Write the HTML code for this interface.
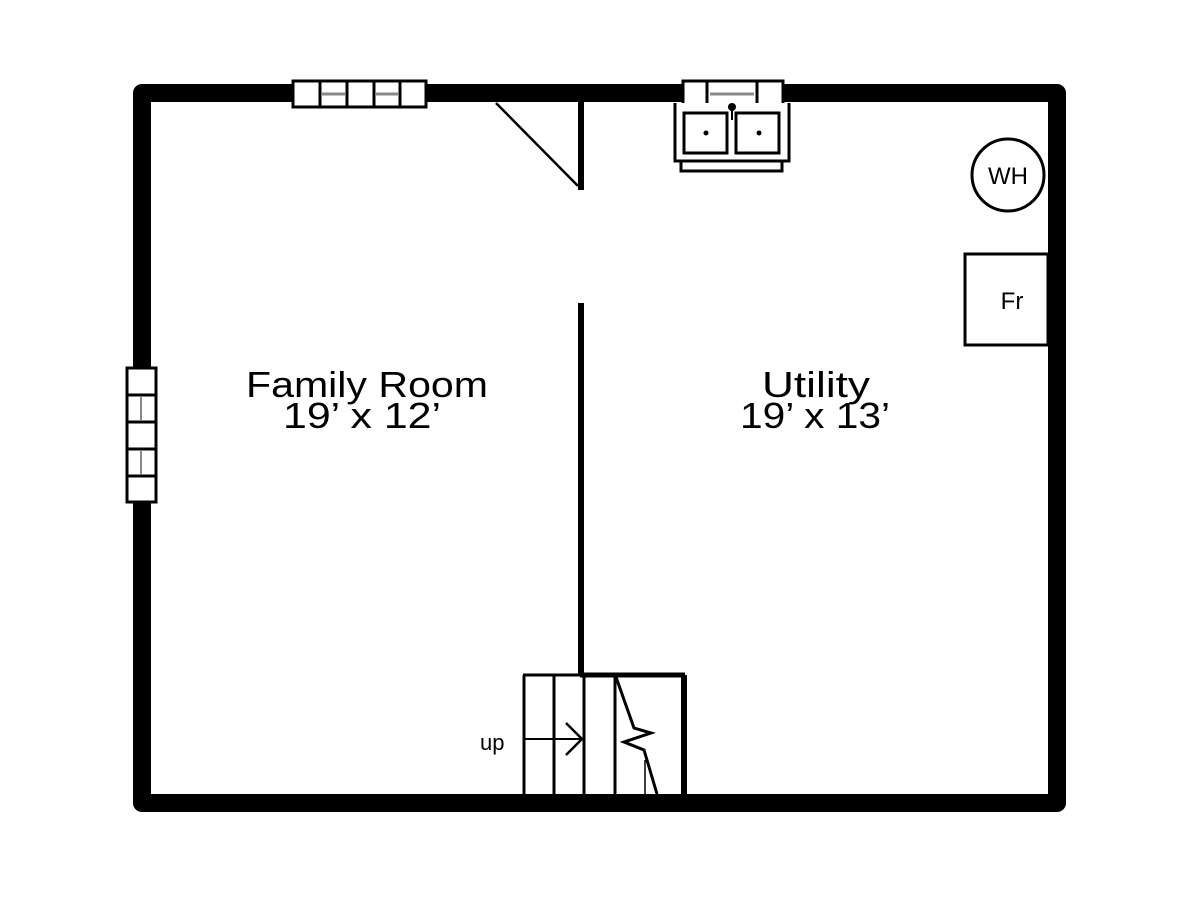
<!DOCTYPE html>
<html><head><style>html,body{margin:0;padding:0;background:#fff}</style></head>
<body>
<svg width="1200" height="900" viewBox="0 0 1200 900" xmlns="http://www.w3.org/2000/svg">
<rect width="1200" height="900" fill="#fff"/>
<rect x="142" y="93" width="915" height="710" fill="none" stroke="#000" stroke-width="18" stroke-linejoin="round"/>
<rect x="293" y="81" width="133" height="26" fill="#fff" stroke="#000" stroke-width="3"/>
<g stroke="#000" stroke-width="3"><line x1="320" y1="81" x2="320" y2="107"/><line x1="347" y1="81" x2="347" y2="107"/><line x1="374" y1="81" x2="374" y2="107"/><line x1="400" y1="81" x2="400" y2="107"/></g>
<g stroke="#888" stroke-width="3"><line x1="322" y1="94" x2="345" y2="94"/><line x1="375" y1="94" x2="398" y2="94"/></g>
<rect x="127" y="368" width="29" height="134" fill="#fff" stroke="#000" stroke-width="3"/>
<g stroke="#000" stroke-width="3"><line x1="127" y1="395" x2="156" y2="395"/><line x1="127" y1="422" x2="156" y2="422"/><line x1="127" y1="449" x2="156" y2="449"/><line x1="127" y1="476" x2="156" y2="476"/></g>
<g stroke="#888" stroke-width="2"><line x1="141" y1="397" x2="141" y2="420"/><line x1="141" y1="451" x2="141" y2="474"/></g>
<rect x="683" y="81" width="100" height="26" fill="#fff" stroke="#000" stroke-width="3"/>
<g stroke="#000" stroke-width="3"><line x1="707" y1="81" x2="707" y2="107"/><line x1="757" y1="81" x2="757" y2="107"/></g>
<line x1="710" y1="94" x2="754" y2="94" stroke="#888" stroke-width="3"/>
<path d="M675 103 V161 H789 V103" fill="#fff" stroke="#000" stroke-width="3"/>
<rect x="681" y="161" width="101" height="10" fill="#fff" stroke="#000" stroke-width="3"/>
<rect x="684" y="113" width="43" height="40" fill="#fff" stroke="#000" stroke-width="3"/>
<rect x="736" y="113" width="43" height="40" fill="#fff" stroke="#000" stroke-width="3"/>
<circle cx="706" cy="133" r="2.5" fill="#000"/><circle cx="759" cy="133" r="2.5" fill="#000"/>
<circle cx="732" cy="107" r="4" fill="#000"/><line x1="732" y1="107" x2="732" y2="120" stroke="#000" stroke-width="2"/>
<line x1="496" y1="103" x2="578" y2="186" stroke="#000" stroke-width="2.5"/>
<rect x="578" y="102" width="6" height="88" fill="#000"/>
<rect x="578" y="303" width="6" height="373" fill="#000"/>
<g stroke="#000" fill="none">
<line x1="523" y1="675" x2="581" y2="675" stroke-width="3"/>
<line x1="580" y1="675" x2="685" y2="675" stroke-width="5"/>
<line x1="684" y1="675" x2="684" y2="796" stroke-width="6"/>
<line x1="524" y1="675" x2="524" y2="796" stroke-width="3"/>
<line x1="554" y1="675" x2="554" y2="796" stroke-width="3"/>
<line x1="584" y1="675" x2="584" y2="796" stroke-width="3"/>
<line x1="615" y1="675" x2="615" y2="796" stroke-width="3"/>
<polyline points="616,677 634,728 651,733 624,742 644,750 657,794" stroke-width="3"/>
<line x1="645" y1="760" x2="645" y2="796" stroke-width="1.5"/>
<line x1="524" y1="739" x2="582" y2="739" stroke-width="2"/>
<polyline points="566,723 582,739 566,755" stroke-width="2.5"/>
</g>
<text x="480" y="750" font-family="Liberation Sans, sans-serif" font-size="22">up</text>
<circle cx="1008" cy="175" r="36" fill="#fff" stroke="#000" stroke-width="3"/>
<text x="1008" y="184" text-anchor="middle" font-family="Liberation Sans, sans-serif" font-size="24">WH</text>
<rect x="965" y="254" width="83" height="91" fill="#fff" stroke="#000" stroke-width="3"/>
<text x="1012" y="309" text-anchor="middle" font-family="Liberation Sans, sans-serif" font-size="24">Fr</text>
<g font-family="Liberation Sans, sans-serif" font-size="36">
<text x="246" y="397" textLength="242" lengthAdjust="spacingAndGlyphs">Family Room</text>
<text x="283" y="428" textLength="158" lengthAdjust="spacingAndGlyphs">19’ x 12’</text>
<text x="762" y="397" textLength="108" lengthAdjust="spacingAndGlyphs">Utility</text>
<text x="740" y="428" textLength="150" lengthAdjust="spacingAndGlyphs">19’ x 13’</text>
</g>
</svg>
</body></html>
